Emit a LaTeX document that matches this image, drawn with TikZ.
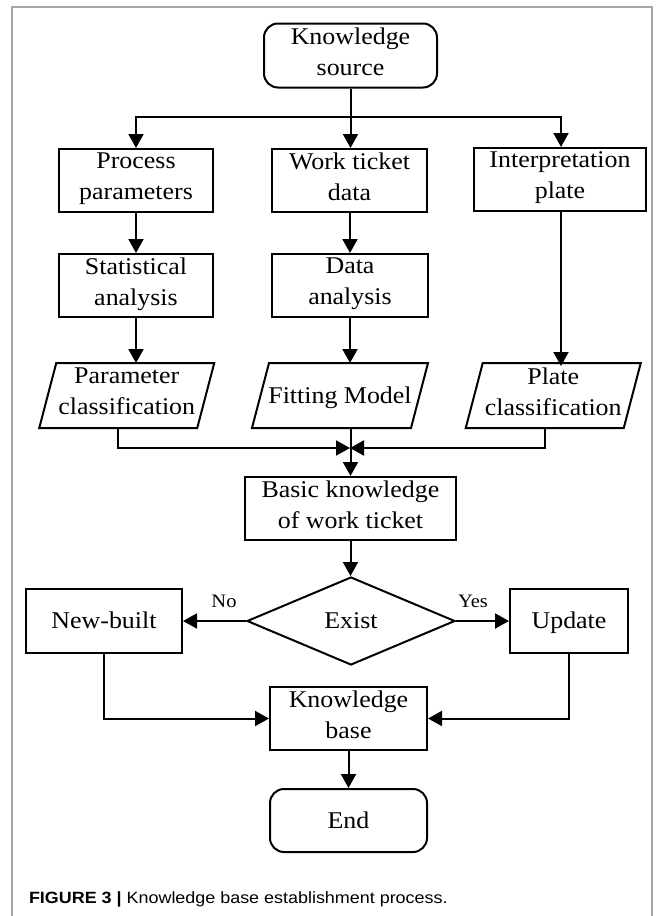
\documentclass[tikz,border=0pt]{standalone}
\usepackage{fontspec}
\usepackage{graphicx}
\setmainfont[FakeStretch=1.08]{Liberation Serif}
\newfontfamily\capfont{Liberation Sans}
\usetikzlibrary{arrows.meta,shapes.geometric}
\newcommand{\topstrut}{\rule{0pt}{23pt}}
\newcommand{\botstrut}{\rule[-8pt]{0pt}{8pt}}
\tikzset{
  txt/.style={inner sep=0pt, align=center, font=\fontsize{24}{31}\selectfont,
    execute at begin node=\topstrut, execute at end node=\botstrut},
  box/.style={draw, rectangle, minimum width=#1, minimum height=63pt, txt},
  rbox/.style={box=#1, rounded corners=14pt},
  pbox/.style={rectangle, minimum width=#1, minimum height=63pt, txt},
  dia/.style={draw, diamond, minimum width=208pt, minimum height=88pt, txt},
  lab/.style={inner sep=0pt, font=\fontsize{19}{24}\selectfont},
  arr/.style={-{Triangle[length=14pt,width=15pt]}},
}
\newcommand{\para}[1]{%
  \draw ([xshift=8.5pt]#1.north west) -- ([xshift=8.5pt]#1.north east)
        -- ([xshift=-8.5pt]#1.south east) -- ([xshift=-8.5pt]#1.south west) -- cycle;}
\begin{document}
\begin{tikzpicture}[x=1pt,y=-1pt,line width=2pt]
\useasboundingbox (0,0) rectangle (662,916);
\fill[white] (0,0) rectangle (662,916);
% frame
\draw[black!35, line width=2pt] (12,916) -- (12,7) -- (652,7) -- (652,916);

% nodes
\node[rbox=173pt, minimum height=64pt] (ks) at (350.5,55.5) {Knowledge\\source};
\node[box=154pt] (pp) at (136,180.5) {Process\\parameters};
\node[box=155pt] (wt) at (349.5,180.5) {Work ticket\\data};
\node[box=172pt] (ip) at (560,179.5) {Interpretation\\plate};
\node[box=154pt] (sa) at (136,285.5) {Statistical\\analysis};
\node[box=156pt] (da) at (350,285.5) {Data\\analysis};
\node[pbox=156pt] (pc) at (126.75,395.5) {Parameter\\classification};
\node[pbox=157pt] (fm) at (340,395.5) {Fitting Model};
\node[pbox=156pt] (plc) at (553.25,395.5) {Plate\\classification};
\para{pc}
\para{fm}
\para{plc}
\node[box=211pt] (bk) at (350.5,508.5) {Basic knowledge\\of work ticket};
\node[dia] (ex) at (351,621) {Exist};
\node[box=156pt, minimum height=64pt] (nb) at (104,621) {New-built};
\node[box=118pt, minimum height=64pt] (up) at (569,621) {Update};
\node[box=157pt] (kb) at (348.5,718.5) {Knowledge\\base};
\node[rbox=157pt] (en) at (348.5,820.5) {End};

\node[lab] (no) at (224,601) {No};
\node[lab] (yes) at (473,601) {Yes};

\coordinate (br) at (350,117);
\coordinate (m) at (350,448);

% connectors
\draw[arr] (ks.south) -- (ks.south |- wt.north);
\draw[arr] (br) -| (pp.north);
\draw[arr] (br) -| ([xshift=1pt]ip.north);
\draw[arr] (pp) -- (sa);
\draw[arr] (wt.south -| da.north) -- (da.north);
\draw[arr] (ip.south -| plc.north) ++(7.75,0) -- ++(0,154);
\draw[arr] (sa.south) -- (sa.south |- pc.north);
\draw[arr] (da.south) -- (da.south |- fm.north);
\draw[arr] (fm.south -| bk.north) -- (bk.north);
\draw[arr] ([xshift=-8.5pt]pc.south) |- (m);
\draw[arr] ([xshift=-8.5pt]plc.south) |- (m);
\draw[arr] (bk.south) -- (bk.south |- ex.north);
\draw[arr] (ex.west) -- (nb.east);
\draw[arr] (ex.east) -- (up.west);
\draw[arr] (nb.south) |- (kb.west);
\draw[arr] (up.south) |- (kb.east);
\draw[arr] (kb.south) -- (en.north);

% caption
\node[anchor=base west, inner sep=0pt, font=\capfont\fontsize{16.3}{20}\selectfont] (cap) at (28,903)
  {\scalebox{1.1}[1]{\textbf{FIGURE 3 |} Knowledge base establishment process.}};
\end{tikzpicture}
\end{document}
